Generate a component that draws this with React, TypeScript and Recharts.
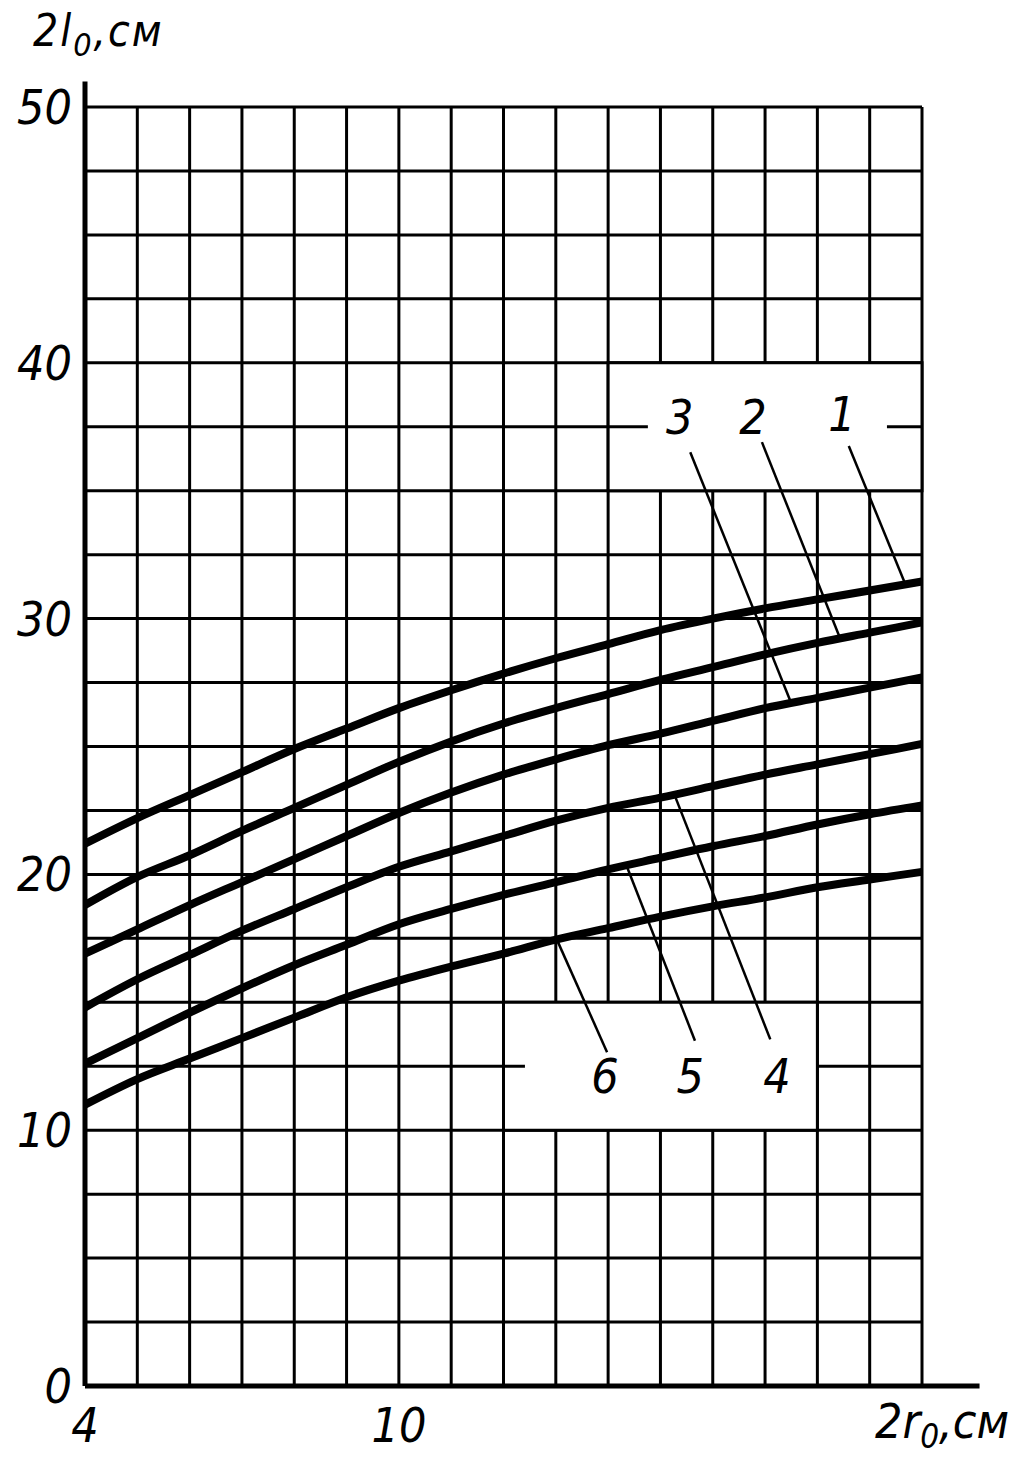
import React from 'react';
import {
  LineChart,
  Line,
  XAxis,
  YAxis,
  CartesianGrid,
  ReferenceLine,
  ReferenceArea,
  ReferenceDot,
} from 'recharts';

// 2r0, cm — one point per grid column
const radiusCm = [4, 5, 6, 7, 8, 9, 10, 11, 12, 13, 14, 15, 16, 17, 18, 19, 20];

// 2l0, cm for curves 1..6
const curve1 = [21.2, 22.2, 23.1, 24.0, 24.9, 25.7, 26.5, 27.2, 27.85, 28.45, 29.0, 29.55, 30.0, 30.4, 30.75, 31.1, 31.45];
const curve2 = [18.8, 19.9, 20.75, 21.7, 22.6, 23.5, 24.4, 25.2, 25.9, 26.5, 27.05, 27.6, 28.1, 28.6, 29.05, 29.45, 29.85];
const curve3 = [16.9, 17.85, 18.8, 19.7, 20.6, 21.5, 22.4, 23.2, 23.9, 24.5, 25.05, 25.5, 26.0, 26.5, 26.9, 27.3, 27.7];
const curve4 = [14.8, 15.9, 16.85, 17.8, 18.65, 19.5, 20.3, 20.9, 21.5, 22.1, 22.6, 23.0, 23.45, 23.9, 24.3, 24.7, 25.1];
const curve5 = [12.6, 13.6, 14.6, 15.55, 16.45, 17.25, 18.05, 18.65, 19.2, 19.7, 20.2, 20.65, 21.1, 21.5, 21.95, 22.35, 22.7];
const curve6 = [11.0, 12.0, 12.8, 13.6, 14.4, 15.2, 15.85, 16.4, 16.9, 17.45, 17.9, 18.35, 18.75, 19.1, 19.5, 19.8, 20.1];

const xTicks = [4, 5, 6, 7, 8, 9, 10, 11, 12, 13, 14, 15, 16, 17, 18, 19, 20];
const yTicks = [0, 2.5, 5, 7.5, 10, 12.5, 15, 17.5, 20, 22.5, 25, 27.5, 30, 32.5, 35, 37.5, 40, 42.5, 45, 47.5, 50];

// blank panels behind the curve numbers
const labelBoxes = [
  { x1: 14, x2: 20, y1: 35, y2: 40 },
  { x1: 12, x2: 18, y1: 10, y2: 15 },
];
// bits of grid line left inside the panels: [x1, x2, y]
const gridStubs = [
  [14, 14.76, 37.5],
  [19.33, 20, 37.5],
  [12, 12.41, 12.5],
];

const curveTags = [
  { text: '3', x: 15.37, y: 37.9 },
  { text: '2', x: 16.77, y: 37.9 },
  { text: '1', x: 18.47, y: 38.0 },
  { text: '6', x: 13.94, y: 12.1 },
  { text: '5', x: 15.57, y: 12.1 },
  { text: '4', x: 17.23, y: 12.1 },
];
// leader lines from the numbers to their curves: [x1, y1, x2, y2]
const leaders = [
  [15.57, 36.5, 17.48, 26.8],
  [16.94, 36.9, 18.43, 29.25],
  [18.6, 36.75, 19.68, 31.35],
  [13.98, 13.05, 13.02, 17.45],
  [15.66, 13.5, 14.36, 20.3],
  [17.1, 13.55, 15.28, 23.05],
];

const series = [curve1, curve2, curve3, curve4, curve5, curve6];
const data = radiusCm.map((r, i) => {
  const row: Record<string, number> = { r };
  series.forEach((s, k) => (row['c' + (k + 1)] = s[i]));
  return row;
});

const HAND = '"Liberation Sans Narrow", "DejaVu Sans Condensed", "DejaVu Sans", sans-serif';
const textStyle = { fontFamily: HAND, fontStyle: 'italic' as const, fontSize: 48, fill: '#000' };

function XTick({ x, y, payload }: any) {
  const v = payload.value;
  if (v === 4 || v === 10) {
    return (
      <text x={x} y={y + 56} textAnchor="middle" {...textStyle}>
        {v}
      </text>
    );
  }
  if (v === 20) {
    return (
      <text x={x - 47} y={y + 52} textAnchor="start" {...textStyle}>
        2r
        <tspan dy={10} fontSize={33}>0</tspan>
        <tspan dy={-10}>,см</tspan>
      </text>
    );
  }
  return <g />;
}

function YTick({ x, y, payload }: any) {
  const v = payload.value;
  if (v % 10 !== 0) return <g />;
  return (
    <text x={x} y={y + 17} textAnchor="end" {...textStyle}>
      {v}
    </text>
  );
}

function CurveTag({ viewBox, text }: any) {
  const cx = viewBox.x + (viewBox.width || 0) / 2;
  const cy = viewBox.y + (viewBox.height || 0) / 2;
  return (
    <text x={cx} y={cy + 17} textAnchor="middle" {...textStyle}>
      {text}
    </text>
  );
}

export default function App() {
  return (
    <div style={{ position: 'absolute', left: 0, top: 0, width: 1018, height: 1460, background: '#fff' }}>
      <svg width={320} height={80} style={{ position: 'absolute', left: 0, top: 0 }}>
        <text x={33} y={46} {...textStyle} fontSize={44} letterSpacing={2}>
          2l
          <tspan dy={10} fontSize={32}>0</tspan>
          <tspan dy={-10}>,см</tspan>
        </text>
      </svg>
      <LineChart
        width={1018}
        height={1460}
        data={data}
        margin={{ top: 107, right: 96, bottom: 14, left: 5 }}
      >
        <CartesianGrid stroke="#000" strokeWidth={3} strokeOpacity={1} />
        <XAxis
          dataKey="r"
          type="number"
          domain={[4, 20]}
          ticks={xTicks}
          interval={0}
          axisLine={false}
          tickLine={false}
          tickSize={0}
          tickMargin={0}
          height={60}
          tick={(p: any) => <XTick {...p} />}
        />
        <YAxis
          type="number"
          domain={[0, 50]}
          ticks={yTicks}
          interval={0}
          axisLine={false}
          tickLine={false}
          tickSize={0}
          tickMargin={13}
          width={80}
          tick={(p: any) => <YTick {...p} />}
        />
        {labelBoxes.map((b, i) => (
          <ReferenceArea
            key={'box' + i}
            x1={b.x1}
            x2={b.x2}
            y1={b.y1}
            y2={b.y2}
            fill="#fff"
            fillOpacity={1}
            stroke="#000"
            strokeWidth={3}
          />
        ))}
        {gridStubs.map((s, i) => (
          <ReferenceLine
            key={'stub' + i}
            segment={[{ x: s[0], y: s[2] }, { x: s[1], y: s[2] }]}
            stroke="#000"
            strokeWidth={3}
          />
        ))}
        <ReferenceLine segment={[{ x: 4, y: 0 }, { x: 4, y: 51 }]} stroke="#000" strokeWidth={5} ifOverflow="visible" />
        <ReferenceLine segment={[{ x: 4, y: 0 }, { x: 21.1, y: 0 }]} stroke="#000" strokeWidth={5} ifOverflow="visible" />
        {series.map((_, k) => (
          <Line
            key={'c' + k}
            dataKey={'c' + (k + 1)}
            type="monotone"
            stroke="#000"
            strokeWidth={8}
            dot={false}
            activeDot={false}
            isAnimationActive={false}
          />
        ))}
        {leaders.map((l, i) => (
          <ReferenceLine
            key={'lead' + i}
            segment={[{ x: l[0], y: l[1] }, { x: l[2], y: l[3] }]}
            stroke="#000"
            strokeWidth={2.5}
          />
        ))}
        {curveTags.map((t) => (
          <ReferenceDot
            key={'tag' + t.text}
            x={t.x}
            y={t.y}
            r={0}
            fill="none"
            stroke="none"
            label={<CurveTag text={t.text} />}
          />
        ))}
      </LineChart>
    </div>
  );
}
